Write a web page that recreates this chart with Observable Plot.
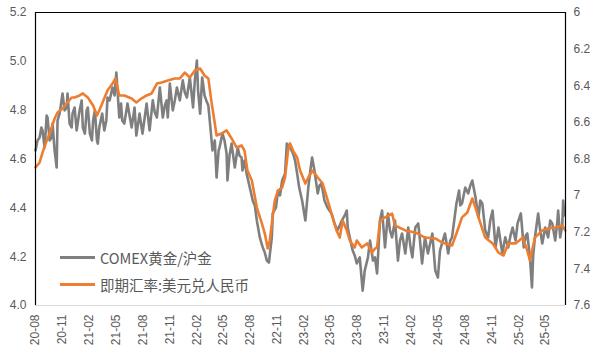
<!DOCTYPE html>
<html><head><meta charset="utf-8">
<script src="https://cdn.jsdelivr.net/npm/d3@7"></script>
<script src="https://cdn.jsdelivr.net/npm/@observablehq/plot@0.6"></script>
<style>
body{margin:0;background:#fff;}
#wrap{position:relative;width:600px;height:362px;}
.legend{position:absolute;left:60px;top:244px;font-family:"Noto Sans CJK SC","Liberation Sans",sans-serif;font-size:14.5px;color:#595959;}
.row{display:flex;align-items:center;height:27px;white-space:nowrap;}
.sw{display:inline-block;width:35px;height:3px;margin-right:5px;}
</style></head><body><div id="wrap"></div>
<script>
const goldRatio = [
["2020-08-01",4.635],["2020-08-08",4.676],["2020-08-15",4.688],["2020-08-21",4.729],["2020-08-25",4.717],["2020-09-01",4.647],["2020-09-08",4.778],["2020-09-11",4.770],["2020-09-18",4.676],["2020-09-25",4.688],["2020-09-28",4.745],["2020-10-05",4.635],["2020-10-12",4.565],["2020-10-15",4.758],["2020-10-22",4.786],["2020-11-01",4.868],["2020-11-08",4.799],["2020-11-15",4.811],["2020-11-18",4.868],["2020-11-25",4.745],["2020-12-02",4.729],["2020-12-05",4.786],["2020-12-12",4.811],["2020-12-19",4.717],["2020-12-29",4.799],["2021-01-05",4.840],["2021-01-09",4.729],["2021-01-16",4.704],["2021-01-22",4.799],["2021-01-26",4.811],["2021-02-02",4.704],["2021-02-09",4.676],["2021-02-13",4.758],["2021-02-19",4.799],["2021-02-26",4.676],["2021-03-01",4.663],["2021-03-06",4.729],["2021-03-13",4.770],["2021-03-16",4.786],["2021-03-23",4.717],["2021-03-30",4.758],["2021-04-03",4.852],["2021-04-10",4.840],["2021-04-20",4.893],["2021-04-27",4.860],["2021-05-03",4.954],["2021-05-13",4.770],["2021-05-19",4.827],["2021-05-23",4.758],["2021-05-30",4.745],["2021-06-10",4.827],["2021-06-17",4.778],["2021-06-24",4.729],["2021-07-04",4.811],["2021-07-10",4.696],["2021-07-21",4.786],["2021-07-31",4.704],["2021-08-07",4.766],["2021-08-14",4.827],["2021-08-24",4.717],["2021-09-04",4.840],["2021-09-11",4.790],["2021-09-18",4.770],["2021-09-28",4.893],["2021-10-08",4.770],["2021-10-15",4.819],["2021-10-21",4.840],["2021-10-25",4.770],["2021-11-01",4.909],["2021-11-11",4.799],["2021-11-18",4.840],["2021-11-25",4.893],["2021-12-05",4.840],["2021-12-15",4.922],["2021-12-22",4.872],["2021-12-29",4.852],["2022-01-08",4.934],["2022-01-19",4.811],["2022-01-25",4.922],["2022-02-01",5.003],["2022-02-05",4.881],["2022-02-12",4.786],["2022-02-19",4.934],["2022-02-22",4.909],["2022-02-27",4.860],["2022-03-05",4.840],["2022-03-12",4.819],["2022-03-19",4.729],["2022-03-26",4.635],["2022-04-03",4.676],["2022-04-09",4.524],["2022-04-16",4.635],["2022-04-19",4.647],["2022-04-29",4.704],["2022-05-06",4.676],["2022-05-13",4.623],["2022-05-16",4.512],["2022-05-23",4.614],["2022-05-30",4.663],["2022-06-10",4.565],["2022-06-20",4.647],["2022-06-26",4.614],["2022-07-03",4.606],["2022-07-06",4.553],["2022-07-13",4.594],["2022-07-20",4.541],["2022-07-31",4.483],["2022-08-10",4.430],["2022-08-17",4.410],["2022-08-24",4.348],["2022-09-03",4.279],["2022-09-13",4.238],["2022-09-20",4.217],["2022-09-27",4.184],["2022-10-04",4.176],["2022-10-14",4.279],["2022-10-17",4.377],["2022-10-28",4.401],["2022-11-04",4.471],["2022-11-11",4.451],["2022-11-18",4.512],["2022-11-28",4.541],["2022-12-04",4.663],["2022-12-15",4.647],["2022-12-25",4.623],["2023-01-01",4.594],["2023-01-08",4.541],["2023-01-15",4.483],["2023-01-25",4.430],["2023-02-05",4.348],["2023-02-15",4.483],["2023-02-22",4.553],["2023-02-28",4.606],["2023-03-08",4.553],["2023-03-19",4.459],["2023-03-25",4.491],["2023-04-01",4.500],["2023-04-11",4.430],["2023-04-21",4.401],["2023-05-05",4.377],["2023-05-15",4.336],["2023-05-25",4.307],["2023-06-02",4.328],["2023-06-09",4.348],["2023-06-19",4.369],["2023-06-26",4.389],["2023-06-29",4.319],["2023-07-06",4.279],["2023-07-16",4.225],["2023-07-23",4.205],["2023-07-30",4.172],["2023-08-09",4.197],["2023-08-19",4.061],["2023-08-26",4.143],["2023-09-06",4.197],["2023-09-13",4.266],["2023-09-23",4.184],["2023-09-30",4.197],["2023-10-07",4.131],["2023-10-17",4.348],["2023-10-24",4.389],["2023-11-03",4.238],["2023-11-13",4.377],["2023-11-20",4.307],["2023-11-27",4.279],["2023-12-07",4.348],["2023-12-17",4.184],["2023-12-24",4.266],["2023-12-31",4.295],["2024-01-11",4.213],["2024-01-21",4.319],["2024-01-28",4.246],["2024-02-04",4.197],["2024-02-14",4.319],["2024-02-24",4.336],["2024-03-01",4.266],["2024-03-08",4.172],["2024-03-18",4.279],["2024-03-28",4.213],["2024-04-12",4.295],["2024-04-22",4.143],["2024-05-01",4.115],["2024-05-08",4.225],["2024-05-15",4.254],["2024-05-25",4.295],["2024-06-05",4.213],["2024-06-12",4.266],["2024-06-18",4.279],["2024-07-03",4.418],["2024-07-12",4.471],["2024-07-16",4.410],["2024-07-22",4.418],["2024-08-02",4.483],["2024-08-12",4.459],["2024-08-19",4.491],["2024-08-26",4.512],["2024-09-06",4.442],["2024-09-16",4.360],["2024-09-22",4.430],["2024-09-29",4.418],["2024-10-09",4.307],["2024-10-19",4.279],["2024-10-26",4.348],["2024-11-03",4.389],["2024-11-13",4.238],["2024-11-23",4.319],["2024-12-06",4.213],["2024-12-16",4.279],["2024-12-26",4.238],["2025-01-03",4.287],["2025-01-10",4.319],["2025-01-20",4.266],["2025-01-27",4.336],["2025-02-07",4.377],["2025-02-17",4.238],["2025-02-24",4.287],["2025-03-01",4.295],["2025-03-10",4.197],["2025-03-17",4.074],["2025-03-21",4.205],["2025-03-27",4.279],["2025-04-07",4.377],["2025-04-14",4.307],["2025-04-21",4.254],["2025-05-01",4.319],["2025-05-11",4.279],["2025-05-18",4.348],["2025-05-25",4.336],["2025-06-04",4.266],["2025-06-11",4.340],["2025-06-14",4.389],["2025-06-21",4.279],["2025-06-28",4.328],["2025-07-01",4.430],["2025-07-05",4.369]
];
const usdCny = [
["2020-08-01",6.846],["2020-08-15",6.819],["2020-08-25",6.765],["2020-09-08",6.699],["2020-09-18",6.661],["2020-10-05",6.579],["2020-10-15",6.546],["2020-11-01",6.524],["2020-11-15",6.497],["2020-12-02",6.464],["2020-12-12",6.464],["2020-12-29",6.453],["2021-01-09",6.442],["2021-01-26",6.464],["2021-02-13",6.508],["2021-02-26",6.562],["2021-03-06",6.535],["2021-03-20",6.481],["2021-04-03",6.426],["2021-04-20",6.388],["2021-04-30",6.360],["2021-05-13",6.453],["2021-05-30",6.453],["2021-06-24",6.470],["2021-07-10",6.491],["2021-07-27",6.470],["2021-08-14",6.453],["2021-08-31",6.442],["2021-09-18",6.388],["2021-10-04",6.382],["2021-10-25",6.371],["2021-11-18",6.360],["2021-12-05",6.360],["2021-12-22",6.328],["2022-01-08",6.355],["2022-01-25",6.317],["2022-02-12",6.306],["2022-02-27",6.344],["2022-03-12",6.360],["2022-03-22",6.481],["2022-04-03",6.606],["2022-04-09",6.672],["2022-04-26",6.661],["2022-05-13",6.644],["2022-05-30",6.688],["2022-06-16",6.737],["2022-07-03",6.726],["2022-07-13",6.754],["2022-07-23",6.863],["2022-08-07",6.917],["2022-08-24",7.065],["2022-09-10",7.152],["2022-09-20",7.207],["2022-09-30",7.289],["2022-10-07",7.245],["2022-10-14",7.152],["2022-10-24",7.027],["2022-11-04",6.972],["2022-11-18",6.956],["2022-11-28",6.901],["2022-12-08",6.754],["2022-12-15",6.715],["2022-12-25",6.754],["2023-01-08",6.792],["2023-01-18",6.863],["2023-02-05",6.934],["2023-02-15",6.901],["2023-03-02",6.863],["2023-03-19",6.901],["2023-04-05",6.934],["2023-04-19",7.010],["2023-05-05",7.098],["2023-05-22",7.190],["2023-06-02",7.229],["2023-06-12",7.136],["2023-06-26",7.190],["2023-07-06",7.245],["2023-07-23",7.283],["2023-07-30",7.245],["2023-08-16",7.283],["2023-09-03",7.261],["2023-09-20",7.311],["2023-09-30",7.289],["2023-10-07",7.283],["2023-10-17",7.136],["2023-11-03",7.119],["2023-11-27",7.098],["2023-12-07",7.163],["2024-01-11",7.190],["2024-02-14",7.201],["2024-03-18",7.229],["2024-04-22",7.234],["2024-05-15",7.256],["2024-06-18",7.272],["2024-07-03",7.207],["2024-07-22",7.119],["2024-08-09",7.092],["2024-08-26",7.016],["2024-09-06",7.065],["2024-09-16",7.119],["2024-10-09",7.229],["2024-11-03",7.261],["2024-11-23",7.311],["2024-12-10",7.327],["2024-12-26",7.261],["2025-01-20",7.261],["2025-02-14",7.229],["2025-03-01",7.300],["2025-03-10",7.354],["2025-03-27",7.229],["2025-04-21",7.190],["2025-05-11",7.180],["2025-06-04",7.174],["2025-06-28",7.163],["2025-07-08",7.190]
];
const leftTicks = [4.0, 4.2, 4.4, 4.6, 4.8, 5.0, 5.2];
const rightTicks = [6, 6.2, 6.4, 6.6, 6.8, 7, 7.2, 7.4, 7.6];
const xTickLabels = ["20-08","20-11","21-02","21-05","21-08","21-11","22-02","22-05","22-08","22-11","23-02","23-05","23-08","23-11","24-02","24-05","24-08","24-11","25-02","25-05"];
const xRange = ["2020-08-01", "2025-07-09"];
const seriesNames = ["COMEX黄金/沪金", "即期汇率:美元兑人民币"];

const GRAY = "#7f7f7f", ORANGE = "#ed7d31";
const parse = d3.utcParse("%Y-%m-%d");
const toLeft = d3.scaleLinear([6, 7.6], [5.2, 4.0]);
const gold = goldRatio.map(([d, v]) => ({date: parse(d), value: v}));
const fx = usdCny.map(([d, v]) => ({date: parse(d), value: toLeft(v)}));
const xDom = xRange.map(parse);
const xTicks = xTickLabels.map(d3.utcParse("%y-%m"));

const chart = Plot.plot({
  width: 600, height: 362,
  marginLeft: 35, marginRight: 35, marginTop: 12, marginBottom: 57,
  style: {fontFamily: "'Liberation Sans', Arial, sans-serif", fontSize: "12px", color: "#595959", background: "#fff", overflow: "visible"},
  x: {type: "utc", domain: xDom},
  y: {domain: [4.0, 5.2]},
  marks: [
    Plot.axisY({anchor: "left", ticks: leftTicks, tickFormat: d3.format(".1f"), tickSize: 0, tickPadding: 9, label: null}),
    Plot.axisY({anchor: "right", ticks: rightTicks.map(toLeft), tickFormat: d => String(Math.round(toLeft.invert(d) * 10) / 10), tickSize: 0, tickPadding: 8, label: null}),
    Plot.axisX({ticks: xTicks, tickFormat: d3.utcFormat("%y-%m"), tickRotate: -90, tickSize: 0, tickPadding: 9, label: null}),
    Plot.line(gold, {x: "date", y: "value", stroke: GRAY, strokeWidth: 2.6}),
    Plot.line(fx, {x: "date", y: "value", stroke: ORANGE, strokeWidth: 2.6}),
    Plot.ruleY([4.0], {stroke: "#d9d9d9", strokeWidth: 1.2}),
    Plot.ruleY([5.2], {stroke: "#000", strokeWidth: 1.2}),
    Plot.ruleX(xDom, {stroke: "#000", strokeWidth: 1.2})
  ]
});
const wrap = document.getElementById("wrap");
wrap.appendChild(chart);
const legend = document.createElement("div");
legend.className = "legend";
[GRAY, ORANGE].forEach((c, i) => {
  const row = document.createElement("div");
  row.className = "row";
  const sw = document.createElement("span");
  sw.className = "sw"; sw.style.background = c;
  const t = document.createElement("span");
  t.textContent = seriesNames[i];
  row.appendChild(sw); row.appendChild(t);
  legend.appendChild(row);
});
wrap.appendChild(legend);
</script>
</body></html>
